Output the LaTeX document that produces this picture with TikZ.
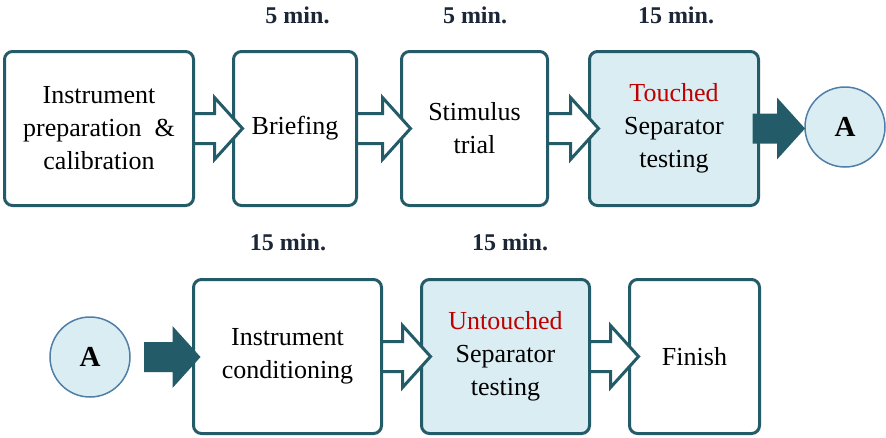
\documentclass[tikz,border=0pt]{standalone}
\usepackage{fontspec}
\newfontfamily\tnr{Liberation Serif}
\usetikzlibrary{calc}
\definecolor{dteal}{HTML}{245B69}
\definecolor{lblue}{HTML}{DAEDF3}
\definecolor{cedge}{HTML}{4F7FA8}
\definecolor{tred}{HTML}{C00000}
\definecolor{lab}{HTML}{1B2636}
\newcommand{\blockarrow}[5]{% style, from, to, start offset, tip offset
  \path[#1] let \p1=($(#2.east)+(#4,0)$), \p2=($(#3.west)+(#5,0)$) in
    (\x1,\y1+15pt) -- (\x2-28pt,\y1+15pt) -- (\x2-28pt,\y1+31pt) -- (\x2,\y1)
    -- (\x2-28pt,\y1-31pt) -- (\x2-28pt,\y1-15pt) -- (\x1,\y1-15pt) -- cycle;}
\begin{document}
\begin{tikzpicture}[x=1pt,y=-1pt,
  stepbox/.style={draw=dteal, line width=3pt, rounded corners=8pt, fill=white, align=center,
    font=\tnr\fontsize{26}{33}\selectfont, minimum height=154pt, inner sep=0pt, outer sep=0pt},
  hl/.style={fill=lblue},
  conn/.style={draw=cedge, line width=1.5pt, fill=lblue, circle, minimum size=80pt,
    inner sep=0pt, outer sep=0pt, font=\tnr\fontsize{29}{30}\selectfont\bfseries},
  timelab/.style={anchor=base, font=\tnr\fontsize{24}{26}\selectfont\bfseries, text=lab},
  hollow/.style={draw=dteal, line width=3pt, fill=white, line join=miter},
  solidarrow/.style={fill=dteal}]
\useasboundingbox (0,0) rectangle (886,437);
% top row
\node[stepbox, minimum width=189pt] (b1) at (99,128.5) {Instrument\\preparation \ \&\\calibration};
\node[stepbox, minimum width=123pt] (b2) at (295,128.5) {Briefing};
\node[stepbox, minimum width=146pt] (b3) at (474.5,128.5) {Stimulus\\trial};
\node[stepbox, hl, minimum width=169pt] (b4) at (674,128.5) {\textcolor{tred}{Touched}\\Separator\\testing};
\node[conn] (a1) at (845,127) {A};
% bottom row
\node[conn] (a2) at (90,357) {A};
\node[stepbox, minimum width=188pt] (b5) at (287.5,356.5) {Instrument\\conditioning};
\node[stepbox, hl, minimum width=168pt] (b6) at (505.5,356.5) {\textcolor{tred}{Untouched}\\Separator\\testing};
\node[stepbox, minimum width=130pt] (b7) at (694.5,356.5) {Finish};
% time labels
\node[timelab] (t1) at (297.5,23) {5 min.};
\node[timelab] (t2) at (475,23) {5 min.};
\node[timelab] (t3) at (676,23) {15 min.};
\node[timelab] (t4) at (288,250) {15 min.};
\node[timelab] (t5) at (510,250) {15 min.};
% arrows
\blockarrow{hollow}{b1}{b2}{0}{9}
\blockarrow{hollow}{b2}{b3}{0}{9}
\blockarrow{hollow}{b3}{b4}{0}{9}
\blockarrow{solidarrow}{b4}{a1}{-6}{0}
\blockarrow{solidarrow}{a2}{b5}{14}{7}
\blockarrow{hollow}{b5}{b6}{0}{9}
\blockarrow{hollow}{b6}{b7}{0}{9}
\end{tikzpicture}
\end{document}
